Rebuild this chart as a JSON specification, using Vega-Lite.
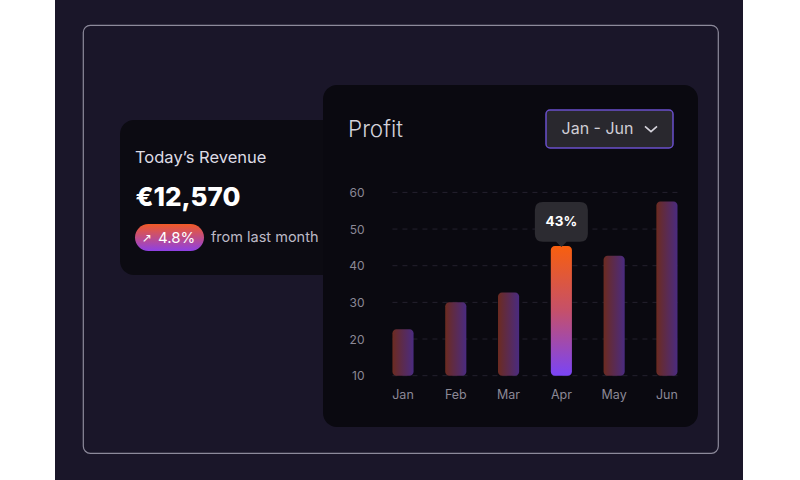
{
  "$schema": "https://vega.github.io/schema/vega-lite/v6.json",
  "background": "#ffffff",
  "padding": {"left": 0, "top": 0, "right": 57, "bottom": 0},
  "bounds": "flush",
  "spacing": 0,
  "config": {
    "view": {"stroke": null},
    "font": "Inter",
    "locale": {"number": {"decimal": ".", "thousands": ",", "grouping": [3], "currency": ["€", ""]}}
  },
  "datasets": {
    "profit": [
      {"month": "Jan", "profit": 22.7},
      {"month": "Feb", "profit": 30.0},
      {"month": "Mar", "profit": 32.7},
      {"month": "Apr", "profit": 45.4, "share": 0.43},
      {"month": "May", "profit": 42.7},
      {"month": "Jun", "profit": 57.5}
    ],
    "grid": [{"tick": 10}, {"tick": 20}, {"tick": 30}, {"tick": 40}, {"tick": 50}, {"tick": 60}],
    "kpi": [{"metric": "Today’s Revenue", "revenue": 12570, "change": 0.048, "note": "from last month"}],
    "range": [{"period": "Jan - Jun"}],
    "card": [{"card": "Profit"}]
  },
  "hconcat": [
    {
      "spacing": 0, "bounds": "flush",
      "hconcat": [
        {"width": 55, "height": 1, "data": {"values": []}, "mark": "point"},
        {"width": 688, "height": 480, "view": {"fill": "#1a1629", "stroke": null}, "data": {"values": []}, "mark": "point"}
      ]
    },
    {
      "spacing": 0, "bounds": "flush",
      "hconcat": [
        {"width": 83, "height": 1, "data": {"values": []}, "mark": "point"},
        {
          "spacing": 0, "bounds": "flush",
          "vconcat": [
            {"width": 1, "height": 25, "data": {"values": []}, "mark": "point"},
            {"width": 635, "height": 428, "view": {"stroke": "#8d8a9b", "strokeWidth": 1.2, "cornerRadius": 7, "fill": null}, "data": {"values": []}, "mark": "point"}
          ]
        }
      ]
    },
    {
      "spacing": 0, "bounds": "flush",
      "hconcat": [
        {"width": 120, "height": 1, "data": {"values": []}, "mark": "point"},
        {
          "spacing": 0, "bounds": "flush",
          "vconcat": [
            {"width": 1, "height": 120, "data": {"values": []}, "mark": "point"},
            {
              "width": 220, "height": 155,
              "view": {"fill": "#0c0b12", "stroke": null, "cornerRadius": 14},
              "data": {"name": "kpi"},
              "layer": [
                {
                  "mark": {"type": "text", "align": "left", "baseline": "middle", "dx": -95, "dy": -40, "fontSize": 16.5, "color": "#dedce5", "font": "Inter"},
                  "encoding": {"text": {"field": "metric"}}
                },
                {
                  "mark": {"type": "text", "align": "left", "baseline": "middle", "dx": -94.5, "dy": 0, "fontSize": 26, "fontWeight": 800, "color": "#ffffff", "font": "Inter"},
                  "encoding": {"text": {"field": "revenue", "format": "$,"}}
                },
                {
                  "mark": {
                    "type": "point", "filled": true, "xOffset": -60.5, "yOffset": 40, "size": 4761, "opacity": 1,
                    "shape": "M -0.609 -0.391 L 0.609 -0.391 A 0.391 0.391 0 0 1 0.609 0.391 L -0.609 0.391 A 0.391 0.391 0 0 1 -0.609 -0.391 Z",
                    "fill": {"gradient": "linear", "x1": 0, "y1": 0, "x2": 0, "y2": 1, "stops": [{"offset": 0, "color": "#f25a26"}, {"offset": 1, "color": "#8e40e4"}]},
                    "stroke": null
                  },
                  "encoding": {}
                },
                {
                  "mark": {"type": "text", "align": "center", "baseline": "middle", "dx": -83, "dy": 40, "fontSize": 12, "color": "#ffffff", "font": "DejaVu Sans"},
                  "encoding": {"text": {"value": "↗"}}
                },
                {
                  "mark": {"type": "text", "align": "left", "baseline": "middle", "dx": -72, "dy": 40, "fontSize": 15, "color": "#ffffff", "font": "Inter"},
                  "encoding": {"text": {"field": "change", "format": ".1%"}}
                },
                {
                  "mark": {"type": "text", "align": "left", "baseline": "middle", "dx": -19, "dy": 40, "fontSize": 14.5, "color": "#bdbac6", "font": "Inter"},
                  "encoding": {"text": {"field": "note"}}
                }
              ]
            }
          ]
        }
      ]
    },
    {
      "spacing": 0, "bounds": "flush",
      "hconcat": [
        {"width": 323, "height": 1, "data": {"values": []}, "mark": "point"},
        {
          "spacing": 0, "bounds": "flush",
          "vconcat": [
            {"width": 1, "height": 85, "data": {"values": []}, "mark": "point"},
            {
              "width": 375, "height": 342,
              "view": {"fill": "#0a0910", "stroke": null, "cornerRadius": 14},
              "data": {"name": "profit"},
              "encoding": {
                "x": {
                  "field": "month", "type": "nominal",
                  "scale": {"domain": ["Jan", "Feb", "Mar", "Apr", "May", "Jun"], "paddingInner": 0.6, "paddingOuter": 0.852, "align": 0.772},
                  "axis": {"title": null, "domain": false, "ticks": false, "tickSize": 0, "labelPadding": 0, "offset": -39, "labelAngle": 0, "labelColor": "#8b8896", "labelFontSize": 12.5, "labelFont": "Inter"}
                },
                "y": {
                  "field": "profit", "type": "quantitative",
                  "scale": {"domain": [-4.0, 89.3], "nice": false, "zero": false},
                  "axis": {"title": null, "values": [10, 20, 30, 40, 50, 60], "domain": false, "ticks": false, "tickSize": 0, "grid": false, "labelPadding": 0, "offset": -41, "labelColor": "#8b8896", "labelFontSize": 12, "labelFont": "Inter"}
                }
              },
              "layer": [
                {
                  "data": {"name": "grid"},
                  "mark": {"type": "rule", "color": "#24212e", "strokeDash": [5, 5], "strokeWidth": 1},
                  "encoding": {
                    "x": {"datum": "Jan", "type": "nominal", "bandPosition": 0},
                    "x2": {"datum": "Jun", "bandPosition": 1},
                    "y": {"field": "tick", "type": "quantitative"}
                  }
                },
                {
                  "transform": [{"filter": "datum.month !== 'Apr'"}],
                  "mark": {
                    "type": "bar", "cornerRadius": 4,
                    "fill": {"gradient": "linear", "x1": 0, "y1": 0, "x2": 1, "y2": 0, "stops": [{"offset": 0, "color": "#6c2b20"}, {"offset": 1, "color": "#4a2b80"}]}
                  },
                  "encoding": {"y2": {"datum": 10}}
                },
                {
                  "transform": [{"filter": "datum.month === 'Apr'"}],
                  "mark": {
                    "type": "bar", "cornerRadius": 4,
                    "fill": {"gradient": "linear", "x1": 0, "y1": 0, "x2": 0, "y2": 1, "stops": [{"offset": 0, "color": "#f85f0e"}, {"offset": 0.5, "color": "#c5506a"}, {"offset": 1, "color": "#7a44f6"}]}
                  },
                  "encoding": {"y2": {"datum": 10}}
                },
                {
                  "transform": [{"filter": "datum.month === 'Apr'"}],
                  "mark": {
                    "type": "point", "filled": true, "size": 2809, "yOffset": -24, "opacity": 1, "color": "#2c2b31", "stroke": null,
                    "shape": "M -0.7 -0.75 L 0.7 -0.75 Q 1 -0.75 1 -0.45 L 1 0.45 Q 1 0.75 0.7 0.75 L 0.2 0.75 L 0 0.95 L -0.2 0.75 L -0.7 0.75 Q -1 0.75 -1 0.45 L -1 -0.45 Q -1 -0.75 -0.7 -0.75 Z"
                  }
                },
                {
                  "transform": [{"filter": "datum.month === 'Apr'"}],
                  "mark": {"type": "text", "dy": -24, "baseline": "middle", "fontSize": 13.5, "fontWeight": "bold", "color": "#ffffff", "font": "Inter"},
                  "encoding": {"text": {"field": "share", "format": ".0%"}}
                },
                {
                  "data": {"name": "card"},
                  "mark": {"type": "text", "align": "left", "baseline": "middle", "dx": -162.5, "dy": -126, "fontSize": 22.5, "fontWeight": 300, "color": "#d3d1da", "font": "Inter"},
                  "encoding": {"text": {"field": "card"}, "x": null, "y": null}
                }
              ]
            }
          ]
        }
      ]
    },
    {
      "spacing": 0, "bounds": "flush",
      "hconcat": [
        {"width": 546, "height": 1, "data": {"values": []}, "mark": "point"},
        {
          "spacing": 0, "bounds": "flush",
          "vconcat": [
            {"width": 1, "height": 110, "data": {"values": []}, "mark": "point"},
            {
              "width": 127, "height": 38,
              "view": {"fill": "#29282e", "stroke": "#6a4fcc", "strokeWidth": 1.5, "cornerRadius": 4},
              "data": {"name": "range"},
              "layer": [
                {
                  "mark": {"type": "text", "align": "center", "baseline": "middle", "dx": -12, "fontSize": 16, "color": "#cfcdd5", "font": "Inter"},
                  "encoding": {"text": {"field": "period"}}
                },
                {
                  "mark": {"type": "point", "filled": false, "xOffset": 41.5, "yOffset": 0, "size": 144, "opacity": 1, "stroke": "#d6d4dc", "strokeWidth": 1.6, "shape": "M -1 -0.45 L 0 0.45 L 1 -0.45"},
                  "encoding": {}
                }
              ]
            }
          ]
        }
      ]
    }
  ]
}
